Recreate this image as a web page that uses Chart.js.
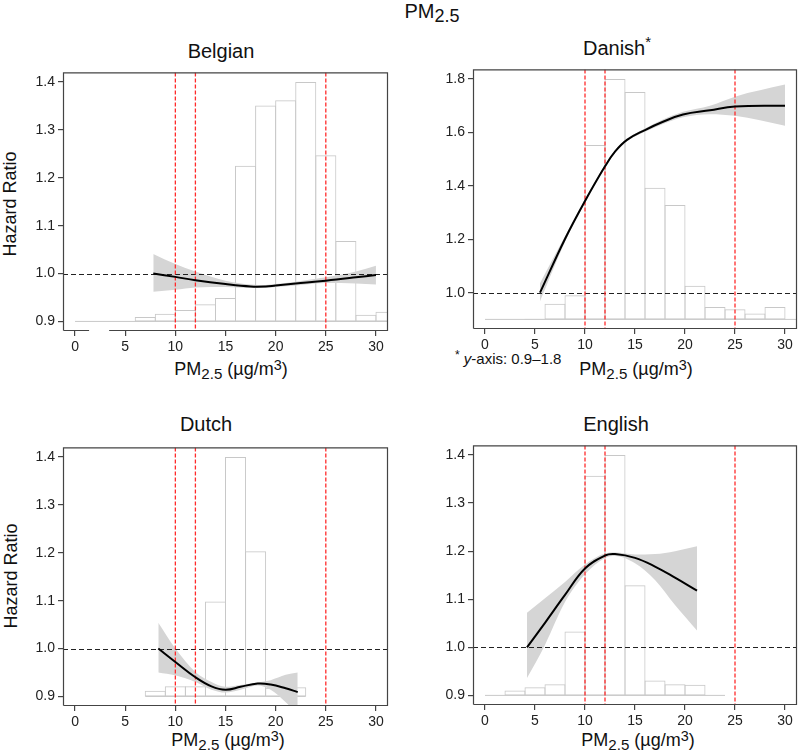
<!DOCTYPE html>
<html>
<head>
<meta charset="utf-8">
<title>PM2.5 hazard ratios</title>
<script src="https://cdn.jsdelivr.net/npm/chart.js@4.4.1/dist/chart.umd.min.js"></script>
<style>
  body { margin: 0; background: #fff; }
  #fig { position: relative; width: 800px; height: 755px; overflow: hidden;
         font-family: "Liberation Sans", Arial, Helvetica, sans-serif; color: #111; }
  #fig canvas { position: absolute; }
  .txt { position: absolute; line-height: 1; white-space: nowrap; }
  .ctr { transform: translateX(-50%); }
  .sub { font-size: 0.84em; position: relative; top: 0.26em; }
  .sup { font-size: 0.8em; position: relative; top: -0.38em; }
  .ptitle { font-size: 20px; }
  .xlab { font-size: 18px; }
  .ylab { font-size: 18px; transform: translate(-50%, -50%) rotate(-90deg); }
</style>
</head>
<body>
<div id="fig">
  <div class="txt ctr" style="left:432px; top:1px; font-size:20px;">PM<span class="sub" style="font-size:18px;top:4px;">2.5</span></div>

  <div class="txt ctr ptitle" style="left:221px; top:41px;">Belgian</div>
  <div class="txt ctr ptitle" style="left:617px; top:38px;">Danish<span class="sup" style="font-size:15px;top:-8px;">*</span></div>
  <div class="txt ctr ptitle" style="left:206px; top:414px;">Dutch</div>
  <div class="txt ctr ptitle" style="left:616px; top:414px;">English</div>

  <div class="txt ylab" style="left:10px; top:204px;">Hazard Ratio</div>
  <div class="txt ylab" style="left:11px; top:576px;">Hazard Ratio</div>

  <div class="txt ctr xlab" style="left:231px; top:360px;">PM<span class="sub">2.5</span> (µg/m<span class="sup">3</span>)</div>
  <div class="txt ctr xlab" style="left:636px; top:360px;">PM<span class="sub">2.5</span> (µg/m<span class="sup">3</span>)</div>
  <div class="txt ctr xlab" style="left:228px; top:731px;">PM<span class="sub">2.5</span> (µg/m<span class="sup">3</span>)</div>
  <div class="txt ctr xlab" style="left:638px; top:731px;">PM<span class="sub">2.5</span> (µg/m<span class="sup">3</span>)</div>

  <div class="txt" style="left:455px; top:351px; font-size:15px;"><span class="sup" style="font-size:12px;">*</span> <i>y</i>-axis: 0.9–1.8</div>
</div>

<script>
// shared axis values
const xTicks = [0, 5, 10, 15, 20, 25, 30];
const xRange = [-1.2, 31.2];
const whoLimits = [10, 12, 25];   // red dashed reference concentrations
const refHR = 1.0;
const histBase = 0.9;             // histograms are drawn up from 0.9
const hrTicks = [0.9, 1.0, 1.1, 1.2, 1.3, 1.4];
const hrRange = [0.88, 1.42];
const danishTicks = [1.0, 1.2, 1.4, 1.6, 1.8];
const danishRange = [0.864, 1.836];

// Belgian
const belgianBinMid = [1, 3, 5, 7, 9, 11, 13, 15, 17, 19, 21, 23, 25, 27, 29, 31];
const belgianHist = [0.9, 0.9, 0.9, 0.909, 0.916, 0.924, 0.936, 0.949, 1.225, 1.351, 1.362, 1.400, 1.247, 1.068, 0.914, 0.920];
const belgianX  = [7.8, 10, 12, 15, 17.5, 19, 20, 22, 25, 28, 30];
const belgianHR = [1.000, 0.993, 0.986, 0.978, 0.973, 0.973, 0.975, 0.979, 0.985, 0.992, 0.997];
const belgianLo = [0.962, 0.966, 0.971, 0.972, 0.970, 0.970, 0.972, 0.975, 0.980, 0.979, 0.977];
const belgianHi = [1.041, 1.020, 1.004, 0.985, 0.977, 0.976, 0.978, 0.983, 0.992, 1.004, 1.016];

// Danish
const danishBinMid = [1, 3, 5, 7, 9, 11, 13, 15, 17, 19, 21, 23, 25, 27, 29, 31];
const danishHist = [0.9, 0.9, 0.902, 0.959, 0.990, 1.553, 1.800, 1.751, 1.393, 1.328, 1.026, 0.946, 0.938, 0.922, 0.946, 0.9];
const danishX  = [5.5, 8, 10, 12, 13, 14.2, 16, 17.8, 19.8, 22.5, 25, 30];
const danishHR = [1.000, 1.201, 1.343, 1.473, 1.528, 1.572, 1.609, 1.640, 1.667, 1.683, 1.697, 1.700];
const danishLo = [0.968, 1.190, 1.336, 1.467, 1.523, 1.567, 1.603, 1.632, 1.657, 1.668, 1.662, 1.625];
const danishHi = [1.035, 1.212, 1.350, 1.479, 1.533, 1.577, 1.615, 1.648, 1.677, 1.700, 1.734, 1.779];

// Dutch
const dutchBinMid = [8, 10, 12, 14, 16, 18, 20, 22];
const dutchHist = [0.912, 0.921, 0.921, 1.098, 1.400, 1.203, 0.918, 0.919];
const dutchX  = [8.3, 10, 12, 13.6, 15, 16.5, 18.2, 19.5, 21, 22.2];
const dutchHR = [1.000, 0.972, 0.940, 0.921, 0.914, 0.920, 0.927, 0.925, 0.917, 0.909];
const dutchLo = [0.950, 0.944, 0.930, 0.914, 0.908, 0.914, 0.923, 0.914, 0.888, 0.862];
const dutchHi = [1.054, 1.000, 0.951, 0.930, 0.920, 0.924, 0.929, 0.934, 0.945, 0.950];

// English
const englishBinMid = [1, 3, 5, 7, 9, 11, 13, 15, 17, 19, 21, 23];
const englishHist = [0.9, 0.910, 0.917, 0.923, 1.033, 1.357, 1.400, 1.129, 0.931, 0.923, 0.922, 0.9];
const englishX  = [4.2, 6, 8, 10, 12, 13, 15, 17, 19, 21.2];
const englishHR = [1.000, 1.051, 1.109, 1.164, 1.191, 1.194, 1.186, 1.168, 1.145, 1.118];
const englishLo = [0.936, 1.005, 1.094, 1.152, 1.186, 1.190, 1.175, 1.140, 1.088, 1.035];
const englishHi = [1.072, 1.102, 1.136, 1.172, 1.195, 1.197, 1.193, 1.194, 1.200, 1.210];

const FONT = '"Liberation Sans", Arial, Helvetica, sans-serif';
const axisColor = '#444';
const histColor = '#c8c8c8';
const bandColor = '#d5d5d5';

// plot frame, reference lines
const framePlugin = {
    id: 'frame',
    beforeDatasetDraw(chart, args) {
        if (args.index !== 0) return; // just before the fitted curve
        const { ctx, chartArea: a, scales: { x, y } } = chart;
        ctx.save();
        ctx.beginPath();
        ctx.rect(a.left, a.top, a.width, a.height);
        ctx.clip();
        ctx.lineWidth = 1;
        ctx.strokeStyle = '#222';
        ctx.setLineDash([5, 3]);
        const yr = Math.round(y.getPixelForValue(refHR)) + 0.5;
        ctx.beginPath();
        ctx.moveTo(a.left, yr);
        ctx.lineTo(a.right, yr);
        ctx.stroke();
        ctx.strokeStyle = '#ff2b2b';
        ctx.lineWidth = 1.3;
        ctx.setLineDash([4, 2]);
        whoLimits.forEach(v => {
            const px = x.getPixelForValue(v);
            ctx.beginPath();
            ctx.moveTo(px, a.top);
            ctx.lineTo(px, a.bottom);
            ctx.stroke();
        });
        ctx.restore();
    },
    afterDraw(chart, args, opts) {
        const { ctx, chartArea: a, scales: { x } } = chart;
        const l = a.left + 0.5, r = a.right - 0.5, t = a.top + 0.5, b = a.bottom - 0.5;
        ctx.save();
        ctx.strokeStyle = axisColor;
        ctx.lineWidth = 1.2;
        ctx.beginPath();
        ctx.moveTo(l, b); ctx.lineTo(l, t); ctx.lineTo(r, t); ctx.lineTo(r, b);
        if (opts.gap) {
            ctx.lineTo(x.getPixelForValue(opts.gap[1]), b);
            ctx.moveTo(x.getPixelForValue(opts.gap[0]), b);
            ctx.lineTo(l, b);
        } else {
            ctx.lineTo(l, b);
        }
        ctx.stroke();
        ctx.restore();
    }
};

function pts(xs, ys) {
    return xs.map((x, i) => ({ x: x, y: ys[i] }));
}

function makePanel(area, bins, hist, xs, hr, lo, hi, yTicks, yRange, gap) {
    const ML = 50, MR = 3, MT = 8, MB = 30;
    const canvas = document.createElement('canvas');
    const w = area.r - area.l + ML + MR;
    const h = area.b - area.t + MT + MB;
    canvas.width = w;
    canvas.height = h;
    canvas.style.width = w + 'px';
    canvas.style.height = h + 'px';
    canvas.style.left = (area.l - ML) + 'px';
    canvas.style.top = (area.t - MT) + 'px';
    document.getElementById('fig').appendChild(canvas);

    const tickFont = { family: FONT, size: 14 };

    new Chart(canvas, {
        type: 'bar',
        data: {
            datasets: [
                {
                    type: 'line', data: pts(xs, hr), borderColor: '#000', borderWidth: 2,
                    pointRadius: 0, fill: false, tension: 0.4
                },
                {
                    type: 'line', data: pts(xs, hi), borderColor: 'rgba(0,0,0,0)', borderWidth: 1,
                    pointRadius: 0, fill: '+1', backgroundColor: bandColor, cubicInterpolationMode: 'monotone'
                },
                {
                    type: 'line', data: pts(xs, lo), borderColor: 'rgba(0,0,0,0)', borderWidth: 1,
                    pointRadius: 0, fill: false, cubicInterpolationMode: 'monotone'
                },
                {
                    // histogram base from first to last bin edge
                    type: 'line',
                    data: [{ x: bins[0] - 1, y: histBase }, { x: bins[bins.length - 1] + 1, y: histBase }],
                    borderColor: histColor, borderWidth: 1, pointRadius: 0, fill: false
                },
                {
                    // slightly wider than the bin so neighbouring edges overlap into one line
                    type: 'bar', data: bins.map((b, i) => ({ x: b, y: [histBase, hist[i]] })),
                    borderColor: histColor, borderWidth: 1, backgroundColor: 'rgba(0,0,0,0)',
                    borderSkipped: false, categoryPercentage: 1.05, barPercentage: 1
                }
            ]
        },
        options: {
            responsive: false,
            animation: false,
            events: [],
            layout: { padding: { top: MT, right: MR, left: 0, bottom: 0 } },
            plugins: {
                legend: { display: false },
                tooltip: { enabled: false },
                frame: { gap: gap }
            },
            scales: {
                x: {
                    type: 'linear', min: xRange[0], max: xRange[1], offset: false,
                    grid: { display: true, drawOnChartArea: false, drawTicks: true, tickLength: 5, color: axisColor, lineWidth: 1.2, offset: false },
                    border: { display: false },
                    ticks: { font: tickFont, color: '#222', padding: 3, maxRotation: 0, autoSkip: false, callback: v => String(v) },
                    afterBuildTicks: s => { s.ticks = xTicks.map(v => ({ value: v })); },
                    afterFit: s => { s.height = MB; }
                },
                y: {
                    type: 'linear', min: yRange[0], max: yRange[1],
                    grid: { display: true, drawOnChartArea: false, drawTicks: true, tickLength: 5, color: axisColor, lineWidth: 1.2 },
                    border: { display: false },
                    ticks: { font: tickFont, color: '#222', padding: 3, autoSkip: false, callback: v => Number(v).toFixed(1) },
                    afterBuildTicks: s => { s.ticks = yTicks.map(v => ({ value: v })); },
                    afterFit: s => { s.width = ML; }
                }
            }
        },
        plugins: [framePlugin]
    });
}

makePanel({ l: 63, t: 69, r: 388, b: 331 }, belgianBinMid, belgianHist, belgianX, belgianHR, belgianLo, belgianHi, hrTicks, hrRange, [1.4, 3.4]);
makePanel({ l: 473, t: 66, r: 797, b: 329 }, danishBinMid, danishHist, danishX, danishHR, danishLo, danishHi, danishTicks, danishRange, null);
makePanel({ l: 63, t: 444, r: 388, b: 706 }, dutchBinMid, dutchHist, dutchX, dutchHR, dutchLo, dutchHi, hrTicks, hrRange, null);
makePanel({ l: 473, t: 442, r: 797, b: 705 }, englishBinMid, englishHist, englishX, englishHR, englishLo, englishHi, hrTicks, hrRange, null);
</script>
</body>
</html>
